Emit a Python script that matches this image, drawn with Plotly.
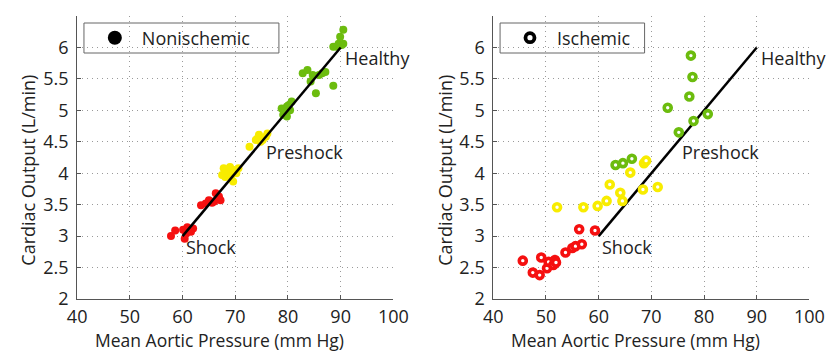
import plotly.graph_objects as go

# ---------------- data ----------------
# Nonischemic (left panel)
non_red_x = [57.8, 58.6, 60.1, 60.4, 60.7, 61.3, 62.0, 60.9, 61.6, 63.5, 64.4, 65.0, 66.0, 66.3, 66.9, 67.2, 65.6]
non_red_y = [3.00, 3.09, 3.10, 2.96, 3.04, 3.10, 3.12, 3.14, 3.07, 3.49, 3.52, 3.57, 3.55, 3.68, 3.63, 3.57, 3.53]
non_yel_x = [67.8, 67.5, 68.1, 68.7, 69.3, 69.6, 69.9, 70.6, 70.2, 69.0, 72.7, 74.2, 74.5, 75.2, 75.8, 76.1, 74.8, 73.9]
non_yel_y = [4.08, 3.97, 3.94, 4.02, 3.97, 3.87, 4.05, 4.08, 4.00, 4.10, 4.42, 4.55, 4.61, 4.53, 4.58, 4.63, 4.50, 4.53]
non_grn_x = [78.8, 79.1, 79.4, 79.8, 80.1, 80.7, 80.4, 79.8, 82.8, 83.7, 84.3, 84.7, 85.3, 85.9, 86.5, 87.1, 88.6,
             88.6, 89.6, 89.9, 90.5, 90.2, 89.3, 90.5]
non_grn_y = [5.03, 4.93, 4.98, 5.06, 5.08, 5.14, 5.00, 4.90, 5.59, 5.64, 5.46, 5.56, 5.27, 5.56, 5.59, 5.61, 5.39,
             6.01, 6.06, 6.17, 6.28, 6.04, 6.01, 6.06]

# Ischemic (right panel)
isc_red_x = [45.6, 47.5, 48.8, 49.1, 50.2, 50.5, 51.4, 51.7, 51.9, 53.7, 55.0, 55.6, 56.8, 56.3, 59.3]
isc_red_y = [2.61, 2.42, 2.38, 2.66, 2.49, 2.59, 2.54, 2.62, 2.58, 2.74, 2.81, 2.84, 2.87, 3.11, 3.09]
isc_yel_x = [52.1, 57.1, 59.8, 61.5, 62.1, 64.1, 64.5, 66.0, 68.4, 71.2, 68.6, 69.0]
isc_yel_y = [3.46, 3.46, 3.48, 3.56, 3.82, 3.69, 3.56, 4.01, 3.74, 3.78, 4.16, 4.20]
isc_grn_x = [63.2, 64.6, 66.3, 73.1, 75.2, 77.2, 77.5, 77.8, 78.0, 80.7]
isc_grn_y = [4.13, 4.16, 4.23, 5.04, 4.65, 5.22, 5.87, 5.53, 4.83, 4.94]

# reference line (shock -> healthy)
line_x = [60, 90]
line_y = [3.0, 6.0]

# state labels
state_names = ["Healthy", "Preshock", "Shock"]
state_x = [90.8, 75.8, 60.7]
state_y = [5.83, 4.33, 2.82]

x_ticks = [40, 50, 60, 70, 80, 90, 100]
y_ticks = [2, 2.5, 3, 3.5, 4, 4.5, 5, 5.5, 6, 6.5]
y_tick_text = ["2", "2.5", "3", "3.5", "4", "4.5", "5", "5.5", "6", "6.5"]

RED = "#f51010"
YEL = "#f8ec00"
GRN = "#6cbc0e"
FONT = "Open Sans"
TXT = "#222222"

# The page body has an 8px default margin, so the figure is drawn 8px smaller
# and every target position (viewport px) is shifted by OFF.
OFF = 8
W, H = 840 - OFF, 352 - OFF
PT, PB = 16 - OFF, 299 - OFF  # plot area top/bottom in figure px


def px(x):
    return (x - OFF) / W


def py(y):
    return (PB - (y - OFF)) / (PB - PT)


fig = go.Figure()

# left panel data
for xs, ys, c in [(non_red_x, non_red_y, RED), (non_yel_x, non_yel_y, YEL), (non_grn_x, non_grn_y, GRN)]:
    fig.add_trace(go.Scatter(x=xs, y=ys, mode="markers", xaxis="x", yaxis="y", showlegend=False,
                             marker=dict(size=8, color=c, line=dict(width=0))))
fig.add_trace(go.Scatter(x=line_x, y=line_y, mode="lines", xaxis="x", yaxis="y", showlegend=False,
                         line=dict(color="black", width=2.5)))
fig.add_trace(go.Scatter(x=[None], y=[None], mode="markers", xaxis="x", yaxis="y", name="Nonischemic",
                         legend="legend", marker=dict(size=14, color="black")))

# right panel data
fig.add_trace(go.Scatter(x=line_x, y=line_y, mode="lines", xaxis="x2", yaxis="y2", showlegend=False,
                         line=dict(color="black", width=2.5)))
for xs, ys, c in [(isc_red_x, isc_red_y, RED), (isc_yel_x, isc_yel_y, YEL), (isc_grn_x, isc_grn_y, GRN)]:
    fig.add_trace(go.Scatter(x=xs, y=ys, mode="markers", xaxis="x2", yaxis="y2", showlegend=False,
                             marker=dict(size=7, color="white", line=dict(width=3.6, color=c))))
fig.add_trace(go.Scatter(x=[None], y=[None], mode="markers", xaxis="x2", yaxis="y2", name="Ischemic",
                         legend="legend2", marker=dict(size=9, color="white", line=dict(width=3.8, color="black"))))

grid = dict(showgrid=True, gridcolor="#9a9a9a", griddash="1px,4px", gridwidth=1, showline=True,
            linecolor="#555555", linewidth=1, ticks="inside", ticklen=4, tickcolor="#555555", zeroline=False,
            tickfont=dict(family=FONT, size=18, color=TXT))
axis_common = dict(range=[40, 100], tickvals=x_ticks, ticklabelstandoff=1, **grid)
yaxis_common = dict(range=[2, 6.5], tickvals=y_ticks, ticktext=y_tick_text, ticklabelstandoff=4, **grid)

fig.update_layout(
    width=W, height=H, margin=dict(l=0, r=0, t=PT, b=H - PB),
    paper_bgcolor="white", plot_bgcolor="white",
    xaxis=dict(domain=[px(69), px(395)], anchor="y", **axis_common),
    yaxis=dict(domain=[0, 1], anchor="x", **yaxis_common),
    xaxis2=dict(domain=[px(498), px(824)], anchor="y2", **axis_common),
    yaxis2=dict(domain=[0, 1], anchor="x2", **yaxis_common),
    legend=dict(x=px(80), y=py(38), xanchor="left", yanchor="middle", bgcolor="rgba(0,0,0,0)",
                borderwidth=0, itemwidth=44, font=dict(family=FONT, size=18, color=TXT)),
    legend2=dict(x=px(508), y=py(38), xanchor="left", yanchor="middle", bgcolor="rgba(0,0,0,0)",
                 borderwidth=0, itemwidth=44, font=dict(family=FONT, size=18, color=TXT)),
    showlegend=True,
)

# legend frames
for x0, x1 in [(76, 277), (505, 654)]:
    fig.add_shape(type="rect", xref="paper", yref="paper", x0=px(x0), x1=px(x1), y0=py(53), y1=py(23),
                  line=dict(color="#666666", width=1), fillcolor="white", layer="below")

annotations = []
for xa, ya in [("x", "y"), ("x2", "y2")]:
    for name, sx, sy in zip(state_names, state_x, state_y):
        annotations.append(dict(x=sx, y=sy, xref=xa, yref=ya, text=name, showarrow=False, xanchor="left",
                                yanchor="middle", xshift=-2, font=dict(family=FONT, size=18, color=TXT)))
# axis titles
for cx in [216, 645]:
    annotations.append(dict(x=px(cx), y=py(339.8), xref="paper", yref="paper", text="Mean Aortic Pressure (mm Hg)",
                            showarrow=False, xanchor="center", yanchor="middle",
                            font=dict(family=FONT, size=17.5, color=TXT)))
for cx in [18, 448]:
    annotations.append(dict(x=px(cx), y=py(170), xref="paper", yref="paper", text="Cardiac Output (L/min)",
                            showarrow=False, xanchor="center", yanchor="middle", textangle=-90,
                            font=dict(family=FONT, size=18, color=TXT)))
fig.update_layout(annotations=annotations)

fig.write_html("out.html")
